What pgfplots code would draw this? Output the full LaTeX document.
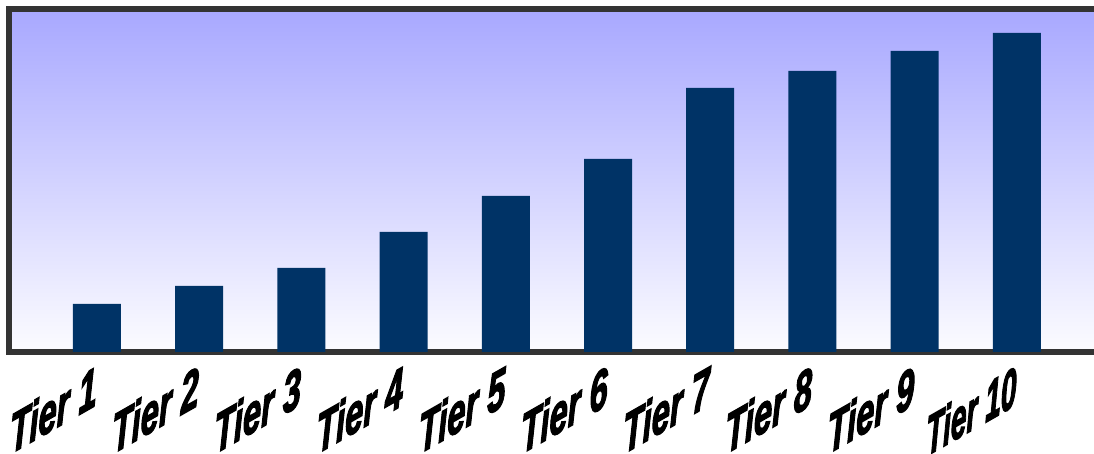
\documentclass[border=0pt]{standalone}
\usepackage{pgfplots}
\pgfplotsset{compat=1.18}
\usepackage{fontspec}
\setmainfont{Liberation Sans}
\newfontface\heavy{Liberation Sans Bold Italic}[FakeBold=3]

\definecolor{barblue}{RGB}{0,51,102}
\definecolor{frame}{RGB}{51,51,51}
\definecolor{bgtop}{RGB}{168,168,255}
\definecolor{bgbot}{RGB}{252,252,255}

\begin{document}
\begin{tikzpicture}
    % picture is 1094x453 px, 1 px = 0.75pt
    \path[use as bounding box] (0,0) rectangle (820.5pt,339.75pt);
    \clip (0,0) rectangle (820.5pt,339.75pt);
    \begin{axis}[
        at={(6.75pt,75.75pt)}, anchor=south west,
        scale only axis,
        width=818.25pt, height=257.25pt,
        xmin=-0.861, xmax=9.814,
        ymin=0, ymax=343,
        ybar, bar width=36pt,
        axis line style={frame, line width=4.5pt},
        axis background/.style={top color=bgtop, bottom color=bgbot},
        ytick=\empty,
        xtick={0,...,9},
        xticklabels={Tier 1,Tier 2,Tier 3,Tier 4,Tier 5,Tier 6,Tier 7,Tier 8,Tier 9,\scalebox{0.86}[1]{Tier 10}},
        major tick length=0pt,
        xticklabel style={yshift=-39.5pt, anchor=base east, inner sep=0pt,
            yslant=0.57, yscale=1.7,
            font=\fontsize{24.5}{26}\selectfont\heavy},
    ]
    \addplot[fill=barblue, draw=none] coordinates {
        (0,48) (1,66) (2,84) (3,120) (4,156)
        (5,193) (6,264) (7,281) (8,301) (9,319)
    };
    \end{axis}
\end{tikzpicture}
\end{document}
